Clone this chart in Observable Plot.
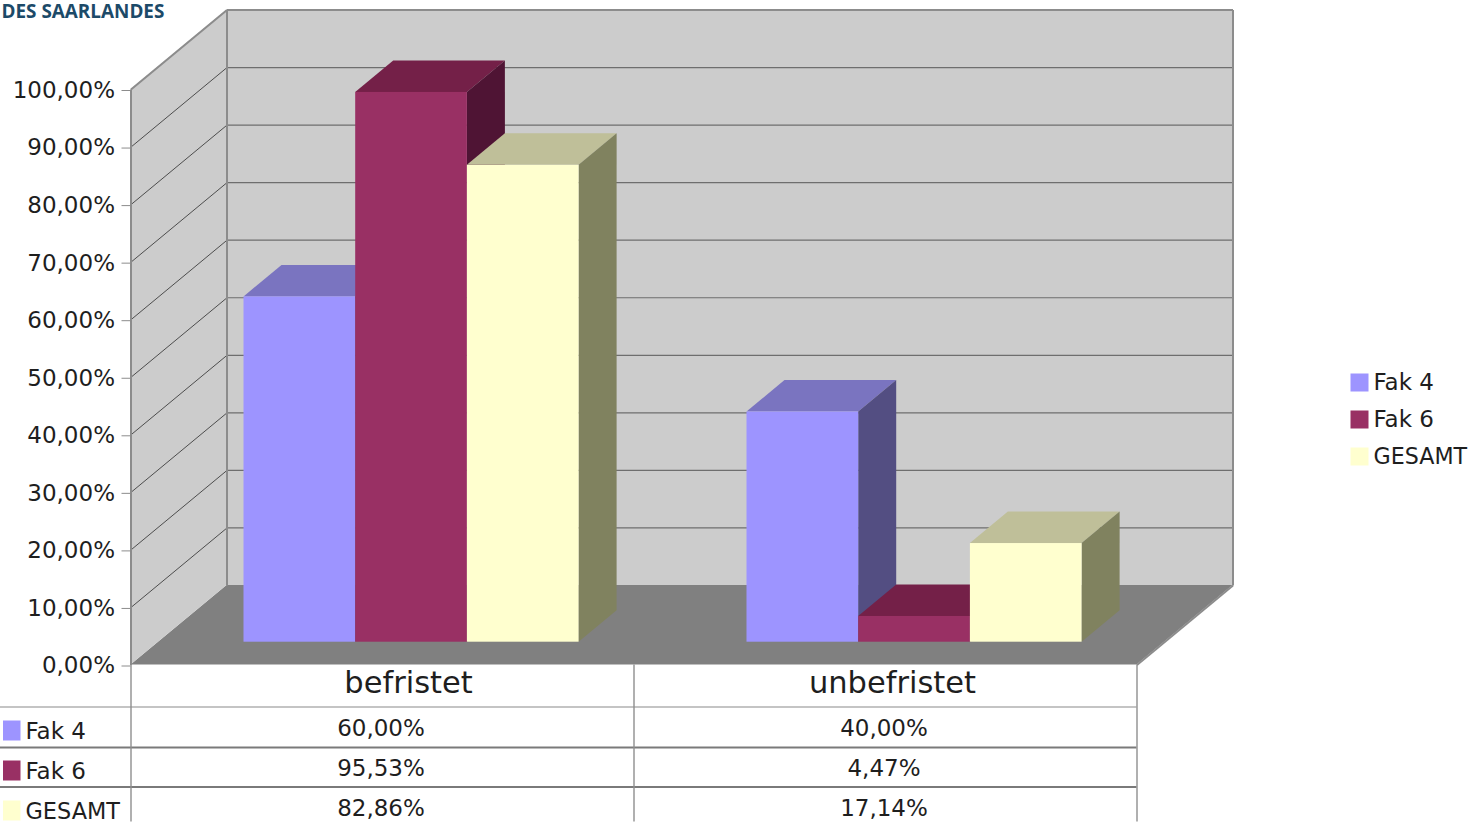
<!DOCTYPE html>
<html>
<head>
<meta charset="utf-8">
<script src="https://cdn.jsdelivr.net/npm/d3@7"></script>
<script src="https://cdn.jsdelivr.net/npm/@observablehq/plot@0.6"></script>
<style>
html,body{margin:0;padding:0;background:#fff;overflow:hidden}
svg{display:block}
</style>
</head>
<body>
<div id="chart"></div>
<script>
const categories = ["befristet", "unbefristet"];
const seriesNames = ["Fak 4", "Fak 6", "GESAMT"];
const fak4 = [60.00, 40.00];
const fak6 = [95.53, 4.47];
const gesamt = [82.86, 17.14];
const yTicks = [0, 10, 20, 30, 40, 50, 60, 70, 80, 90, 100];
const heading = "DES SAARLANDES";

const seriesValues = [fak4, fak6, gesamt];
const frontColors = ["#9d94ff", "#993064", "#ffffcf"];
const topColors = ["#7a74c0", "#742048", "#bfbf99"];
const sideColors = ["#534e82", "#4f1434", "#80825f"];

// Layout helpers for chart-frame items (axis units: 1 category wide, 1 percentage point tall)
const X = px => (px - 131) / 503;
const Y = px => (665 - px) / 5.755;
const Yt = px => Y(px + 1);
const wallDx = 96 / 503, wallDy = 79.5 / 5.755;  // depth of the whole box
const barDx = 38 / 503, barDy = 31.5 / 5.755;    // depth of one bar
const barBase = 22.8 / 5.755;                    // bars stand this far back on the floor
const barStart = 113 / 503, barWidth = 111.7 / 503;

const fmt = v => v.toFixed(2).replace(".", ",") + "%";
const font = "'DejaVu Sans', Verdana, sans-serif";
const ink = "#1e1e1e", edge = "#8c8c8c";

const poly = (x1a, y1a, x2a, y2a, x1b, y1b, x2b, y2b, fill) =>
  Plot.area([{x1: x1a, y1: y1a, x2: x2a, y2: y2a}, {x1: x1b, y1: y1b, x2: x2b, y2: y2b}],
    {x1: "x1", y1: "y1", x2: "x2", y2: "y2", fill});

const marks = [];
// floor and walls
marks.push(poly(0, 0, 2, 0, wallDx, wallDy, 2 + wallDx, wallDy, "#808080"));
marks.push(Plot.rect([{}], {x1: wallDx, x2: 2 + wallDx, y1: wallDy, y2: 100 + wallDy, fill: "#cccccc"}));
marks.push(poly(0, 0, 0, 100, wallDx, wallDy, wallDx, 100 + wallDy, "#cccccc"));
// grid on the back and left walls
const gridTicks = yTicks.filter(t => t > 0 && t < 100);
marks.push(Plot.link(yTicks.filter(t => t > 0), {x1: wallDx, x2: 2 + wallDx, y1: t => t + wallDy, y2: t => t + wallDy, stroke: "#6e6e6e", strokeWidth: 1.2}));
marks.push(Plot.link(gridTicks, {x1: 0, x2: wallDx, y1: t => t, y2: t => t + wallDy, stroke: "#4d4d4d", strokeWidth: 1}));
// box outline
marks.push(Plot.link([
  {x1: 0, y1: 0, x2: 0, y2: 100},
  {x1: 0, y1: 100, x2: wallDx, y2: 100 + wallDy},
  {x1: wallDx, y1: wallDy, x2: wallDx, y2: 100 + wallDy},
  {x1: wallDx, y1: 100 + wallDy, x2: 2 + wallDx, y2: 100 + wallDy},
  {x1: 2 + wallDx, y1: wallDy, x2: 2 + wallDx, y2: 100 + wallDy},
  {x1: 2, y1: 0, x2: 2 + wallDx, y2: wallDy}
], {x1: "x1", y1: "y1", x2: "x2", y2: "y2", stroke: edge, strokeWidth: 2}));

// bars: top, side, then front, left to right so nearer faces overlap
categories.forEach((c, ci) => {
  seriesValues.forEach((vals, si) => {
    const v = vals[ci];
    const x0 = ci + barStart + si * barWidth, x1 = x0 + barWidth;
    const b = barBase, t = barBase + v;
    marks.push(poly(x0, t, x1, t, x0 + barDx, t + barDy, x1 + barDx, t + barDy, topColors[si]));
    marks.push(poly(x1, b, x1, t, x1 + barDx, b + barDy, x1 + barDx, t + barDy, sideColors[si]));
    marks.push(Plot.rect([{}], {x1: x0, x2: x1, y1: b, y2: t, fill: frontColors[si]}));
  });
});

// y axis
marks.push(Plot.axisY({ticks: yTicks, tickFormat: fmt, tickSize: 9, tickPadding: 7, stroke: edge, label: null, fontSize: 23, fill: ink, fontFamily: font, dy: 1}));

// data table
const rowCenters = [728, 768, 808];
const labelCenters = [X(408.5), X(892.5)];
marks.push(Plot.ruleY([707].map(Y), {x1: X(0), x2: 2, stroke: "#8a8a8a", strokeWidth: 1.2}));
marks.push(Plot.ruleY([747.5, 787].map(Y), {x1: X(0), x2: 2, stroke: "#7a7a7a", strokeWidth: 1.8}));
marks.push(Plot.ruleX([0, 1, 2], {y1: 0, y2: Y(822), stroke: "#8f8f8f", strokeWidth: 1.4}));
marks.push(Plot.text(categories, {x: (d, i) => labelCenters[i], y: Yt(682), text: d => d, fontSize: 30.5, fill: ink, fontFamily: font, lineAnchor: "middle"}));
seriesNames.forEach((name, si) => {
  const yc = Yt(rowCenters[si]);
  marks.push(Plot.rect([{}], {x1: X(3.5), x2: X(21), y1: Yt(rowCenters[si] + 12), y2: Yt(rowCenters[si] - 8), fill: frontColors[si]}));
  marks.push(Plot.text([name], {x: X(25.5), y: Yt(rowCenters[si] + 2.5), text: d => d, textAnchor: "start", fontSize: name === "GESAMT" ? 22.4 : 23, fill: ink, fontFamily: font, lineAnchor: "middle"}));
  marks.push(Plot.text(seriesValues[si], {x: (d, i) => i + 0.497, y: yc, text: fmt, fontSize: 23, fill: ink, fontFamily: font, lineAnchor: "middle"}));
});

// legend
const legendCenters = [382, 419, 456];
seriesNames.forEach((name, si) => {
  const yc = legendCenters[si];
  marks.push(Plot.rect([{}], {x1: X(1351), x2: X(1369), y1: Yt(yc + 9), y2: Yt(yc - 9), fill: frontColors[si]}));
  marks.push(Plot.text([name], {x: X(1373.5), y: Yt(yc), text: d => d, textAnchor: "start", fontSize: name === "GESAMT" ? 22.2 : 23, fill: ink, fontFamily: font, lineAnchor: "middle"}));
});

// cropped heading
marks.push(Plot.text([heading], {x: X(1.5), y: Yt(11), text: d => d, textAnchor: "start", fontSize: 18.9, fontWeight: "bold", fill: "#1c4a68", fontFamily: "'Open Sans', sans-serif", lineAnchor: "middle"}));

const chart = Plot.plot({
  width: 1476, height: 822,
  marginLeft: 130.5, marginRight: 339.5, marginTop: 89, marginBottom: 157.5,
  x: {domain: [0, 2], axis: null},
  y: {domain: [0, 100], axis: null},
  style: {background: "#fff", overflow: "visible"},
  marks
});
document.getElementById("chart").appendChild(chart);
</script>
</body>
</html>
